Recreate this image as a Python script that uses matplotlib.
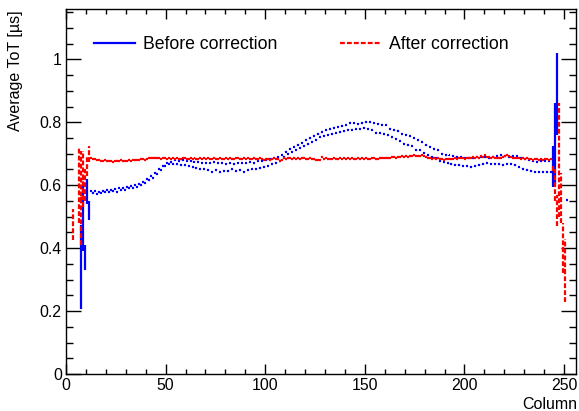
import numpy as np
import matplotlib
matplotlib.use('Agg')
import matplotlib.pyplot as plt
from matplotlib.lines import Line2D
from matplotlib.ticker import MultipleLocator, FuncFormatter

plt.rcParams['font.family'] = ['Liberation Sans', 'DejaVu Sans']
plt.rcParams['lines.scale_dashes'] = False

# Average ToT per column before correction: even columns 12..242
before_even = [0.580, 0.581, 0.579, 0.583, 0.585, 0.584, 0.588, 0.590, 0.591, 0.595,
               0.597, 0.601, 0.605, 0.611, 0.620, 0.628, 0.640, 0.650, 0.662, 0.672,
               0.675, 0.679, 0.678, 0.680, 0.676, 0.677, 0.674, 0.675, 0.671, 0.672,
               0.670, 0.673, 0.669, 0.671, 0.668, 0.670, 0.667, 0.671, 0.669, 0.670,
               0.673, 0.672, 0.676, 0.678, 0.680, 0.683, 0.685, 0.690, 0.695, 0.706,
               0.715, 0.721, 0.728, 0.735, 0.743, 0.750, 0.757, 0.763, 0.768, 0.774,
               0.778, 0.783, 0.786, 0.788, 0.790, 0.799, 0.797, 0.796, 0.798, 0.801,
               0.800, 0.797, 0.796, 0.792, 0.790, 0.780, 0.775, 0.772, 0.764, 0.760,
               0.755, 0.749, 0.743, 0.736, 0.728, 0.722, 0.716, 0.711, 0.700, 0.697,
               0.695, 0.694, 0.690, 0.689, 0.686, 0.687, 0.685, 0.689, 0.690, 0.691,
               0.688, 0.690, 0.692, 0.695, 0.694, 0.690, 0.692, 0.692, 0.688, 0.682,
               0.679, 0.676, 0.675, 0.677, 0.678, 0.676]
# odd columns 13..243
before_odd = [0.575, 0.573, 0.576, 0.577, 0.578, 0.580, 0.579, 0.584, 0.586, 0.590,
              0.592, 0.595, 0.600, 0.606, 0.615, 0.624, 0.635, 0.647, 0.660, 0.668,
              0.667, 0.666, 0.664, 0.663, 0.660, 0.657, 0.655, 0.650, 0.652, 0.648,
              0.643, 0.649, 0.641, 0.646, 0.645, 0.650, 0.644, 0.648, 0.643, 0.647,
              0.650, 0.652, 0.655, 0.658, 0.662, 0.668, 0.672, 0.678, 0.690, 0.700,
              0.707, 0.713, 0.719, 0.725, 0.731, 0.738, 0.745, 0.752, 0.757, 0.760,
              0.763, 0.765, 0.769, 0.772, 0.777, 0.777, 0.778, 0.780, 0.782, 0.780,
              0.775, 0.767, 0.765, 0.762, 0.759, 0.752, 0.748, 0.740, 0.732, 0.728,
              0.724, 0.712, 0.711, 0.702, 0.695, 0.690, 0.685, 0.676, 0.673, 0.669,
              0.667, 0.664, 0.664, 0.662, 0.660, 0.658, 0.661, 0.664, 0.667, 0.669,
              0.668, 0.668, 0.666, 0.664, 0.668, 0.668, 0.664, 0.657, 0.653, 0.648,
              0.645, 0.642, 0.642, 0.643, 0.642, 0.641]
# after correction, columns 12..243
after_mid = [0.685, 0.684, 0.682, 0.679, 0.680, 0.678, 0.677, 0.679, 0.676, 0.678,
             0.677, 0.675, 0.678, 0.676, 0.677, 0.679, 0.676, 0.678, 0.677, 0.679,
             0.678, 0.680, 0.679, 0.681, 0.680, 0.682, 0.683, 0.681, 0.684, 0.686,
             0.685, 0.687, 0.686, 0.685, 0.687, 0.684, 0.686, 0.685, 0.683, 0.685,
             0.684, 0.686, 0.683, 0.685, 0.684, 0.682, 0.685, 0.686, 0.684, 0.683,
             0.685, 0.684, 0.686, 0.683, 0.684, 0.685, 0.683, 0.686, 0.684, 0.685,
             0.683, 0.684, 0.686, 0.684, 0.682, 0.685, 0.684, 0.683, 0.686, 0.684,
             0.685, 0.683, 0.684, 0.686, 0.685, 0.683, 0.684, 0.686, 0.684, 0.685,
             0.684, 0.682, 0.685, 0.683, 0.684, 0.686, 0.683, 0.681, 0.684, 0.682,
             0.680, 0.683, 0.686, 0.684, 0.683, 0.678, 0.681, 0.685, 0.684, 0.686,
             0.685, 0.683, 0.686, 0.684, 0.685, 0.683, 0.686, 0.685, 0.684, 0.683,
             0.685, 0.684, 0.682, 0.680, 0.679, 0.681, 0.690, 0.684, 0.685, 0.684,
             0.683, 0.684, 0.685, 0.684, 0.683, 0.685, 0.684, 0.686, 0.683, 0.685,
             0.684, 0.686, 0.683, 0.684, 0.685, 0.683, 0.686, 0.684, 0.685, 0.683,
             0.684, 0.686, 0.685, 0.683, 0.684, 0.686, 0.685, 0.687, 0.686, 0.688,
             0.687, 0.689, 0.690, 0.688, 0.691, 0.689, 0.692, 0.690, 0.693, 0.691,
             0.694, 0.692, 0.695, 0.693, 0.694, 0.692, 0.695, 0.692, 0.690, 0.688,
             0.686, 0.684, 0.687, 0.683, 0.685, 0.682, 0.684, 0.681, 0.683, 0.682,
             0.684, 0.682, 0.683, 0.685, 0.684, 0.686, 0.685, 0.687, 0.684, 0.686,
             0.688, 0.686, 0.689, 0.687, 0.690, 0.688, 0.693, 0.690, 0.695, 0.691,
             0.689, 0.687, 0.690, 0.686, 0.688, 0.685, 0.687, 0.690, 0.693, 0.695,
             0.692, 0.689, 0.687, 0.688, 0.685, 0.687, 0.684, 0.686, 0.683, 0.685,
             0.682, 0.684, 0.681, 0.683, 0.682, 0.680, 0.683, 0.681, 0.682, 0.684,
             0.681, 0.683]
bulk_err = 0.002

# sparsely populated edge columns with large errors
before_edge_cols = [7, 8, 9, 10, 11, 244, 245, 246, 251]
before_edge_vals = [0.34, 0.50, 0.37, 0.58, 0.52, 0.66, 0.73, 0.89, 0.552]
before_edge_errs = [0.135, 0.11, 0.04, 0.04, 0.03, 0.065, 0.13, 0.13, 0.0]
after_edge_cols = [3, 6, 7, 8, 9, 10, 11, 244, 245, 246, 247, 248, 249, 250]
after_edge_vals = [0.475, 0.60, 0.56, 0.62, 0.60, 0.66, 0.70, 0.655, 0.60, 0.52, 0.68, 0.56, 0.40, 0.33]
after_edge_errs = [0.05, 0.12, 0.15, 0.09, 0.05, 0.03, 0.025, 0.01, 0.05, 0.05, 0.18, 0.08, 0.08, 0.10]

blue = (0, 0, 1)
red = (1, 0, 0)
dash = (0, (3.5, 1.5))

fig = plt.figure(figsize=(5.79, 4.11), dpi=100)
ax = fig.add_axes([66/579, 37/411, 510/579, 365/411])

# before correction
bx = np.concatenate([np.arange(12, 243, 2), np.arange(13, 244, 2), before_edge_cols]) + 0.5
by = np.concatenate([before_even, before_odd, before_edge_vals])
be = np.concatenate([np.full(len(before_even) + len(before_odd), bulk_err), before_edge_errs])
ax.errorbar(bx, by, xerr=0.5, yerr=be, fmt='none', ecolor=blue, elinewidth=1.6, capsize=0)

# after correction (dashed)
ax_ = np.concatenate([np.arange(12, 244), after_edge_cols]) + 0.5
ay = np.concatenate([after_mid, after_edge_vals])
ae = np.concatenate([np.full(len(after_mid), bulk_err), after_edge_errs])
cont = ax.errorbar(ax_, ay, xerr=0.5, yerr=ae, fmt='none', ecolor=red, elinewidth=1.6, capsize=0)
for lc in cont[2]:
    lc.set_linestyle(dash)

ax.set_xlim(0, 256)
ax.set_ylim(0, 1.16)
ax.xaxis.set_major_locator(MultipleLocator(50))
ax.xaxis.set_minor_locator(MultipleLocator(10))
ax.yaxis.set_major_locator(MultipleLocator(0.2))
ax.yaxis.set_minor_locator(MultipleLocator(0.05))
ax.yaxis.set_major_formatter(FuncFormatter(lambda v, p: '%g' % round(v, 3)))
ax.tick_params(which='both', direction='in', top=True, right=True, labelsize=11.4, width=1.0)
ax.tick_params(axis='x', which='major', length=7.2, pad=3)
ax.tick_params(axis='x', which='minor', length=3.6)
ax.tick_params(axis='y', which='major', length=10.8, pad=3)
ax.tick_params(axis='y', which='minor', length=5.2)
for s in ax.spines.values():
    s.set_linewidth(1.0)

fig.text(577/579, 2/411, 'Column', ha='right', va='baseline', fontsize=11.5)
fig.text(16/579, 1 - 10/411, 'Average ToT [µs]', rotation=90, ha='center', va='top', fontsize=11.5)

handles = [Line2D([], [], color=blue, lw=1.6),
           Line2D([], [], color=red, lw=1.6, linestyle=dash)]
ax.legend(handles, ['Before correction', 'After correction'], ncol=2, frameon=False,
          loc='upper left', bbox_to_anchor=(94/579, 1 - 36/411), bbox_transform=fig.transFigure,
          borderpad=0, borderaxespad=0, fontsize=12.7, handlelength=2.3, handletextpad=0.45,
          columnspacing=3.6)

fig.savefig('out.png', dpi=100)
